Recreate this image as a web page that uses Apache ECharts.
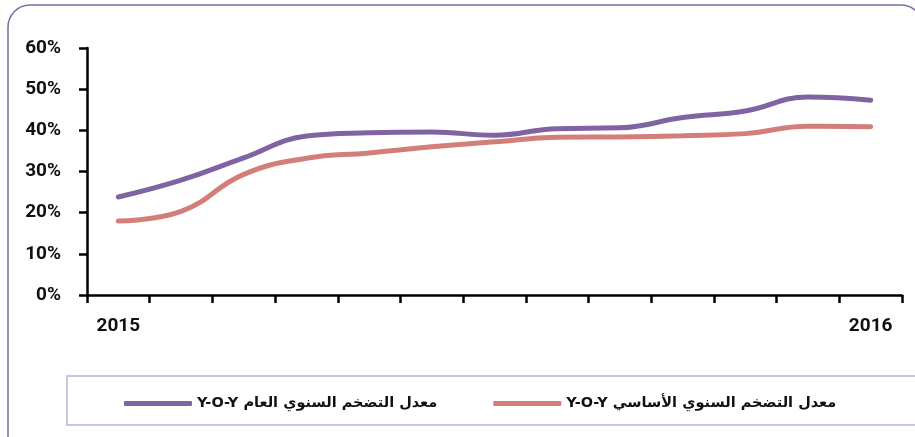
<!DOCTYPE html>
<html><head><meta charset="utf-8">
<script src="https://cdn.jsdelivr.net/npm/echarts@6/dist/echarts.min.js"></script>
<style>html,body{margin:0;padding:0;background:#fff}#c{width:915px;height:437px}</style>
</head><body><div id="c"></div>
<script>
const categories = ['2015','','','','','','','','','','','','2016'];
const generalName = 'معدل التضخم السنوي العام Y-O-Y';
const coreName = 'معدل التضخم السنوي الأساسي Y-O-Y';
const generalValues = [23.8, 27.9, 33.3, 38.6, 39.4, 39.6, 38.8, 40.4, 40.6, 43.1, 44.7, 48.1, 47.3];
const coreValues = [18.0, 20.3, 29.3, 33.2, 34.5, 36.0, 37.2, 38.3, 38.4, 38.7, 39.2, 41.0, 40.9];
const yTicks = [0, 10, 20, 30, 40, 50, 60];

const rle = s => '\u202B' + s + '\u202C';
const chart = echarts.init(document.getElementById('c'), null, {renderer:'canvas'});
chart.setOption({
  animation: false,
  backgroundColor: '#fff',
  grid: {left: 87, right: 13, top: 48, bottom: 142},
  graphic: [
    {type:'rect', shape:{x:8, y:5, width:915, height:470, r:22}, style:{fill:'none', stroke:'#8467A6', lineWidth:1.5}, z:-1},
    {type:'rect', shape:{x:67, y:376, width:900, height:49}, style:{fill:'none', stroke:'#CEC4E0', lineWidth:2}, z:-1}
  ],
  legend: {
    left: 119, top: 391, itemGap: 56, itemWidth: 68, itemHeight: 5, icon: 'roundRect',
    textStyle: {fontFamily: '"DejaVu Sans", Roboto', fontWeight: 'bold', fontSize: 14.5, color: '#111'},
    data: [{name: generalName}, {name: coreName}],
    formatter: n => rle(n)
  },
  xAxis: {
    type: 'category', data: categories, boundaryGap: true,
    axisLine: {lineStyle: {color: '#000', width: 2.5}},
    axisTick: {show: true, length: 8, lineStyle: {color: '#000', width: 2.5}, alignWithLabel: false, interval: 0},
    axisLabel: {interval: 0, margin: 22, color: '#111', fontFamily: 'Roboto', fontWeight: 'bold', fontSize: 19}
  },
  yAxis: {
    type: 'value', min: yTicks[0], max: yTicks[yTicks.length-1], interval: 10,
    splitLine: {show: false},
    axisLine: {show: true, lineStyle: {color: '#000', width: 2.5}},
    axisTick: {show: true, length: 8, lineStyle: {color: '#000', width: 2.5}},
    axisLabel: {formatter: '{value}%', margin: 26, color: '#111', fontFamily: 'Roboto', fontWeight: 'bold', fontSize: 19}
  },
  series: [
    {name: generalName, type: 'line', data: generalValues, smooth: 0.45, symbol: 'none',
     color: '#7F63A3', lineStyle: {width: 5, cap: 'round', color: '#7F63A3'}},
    {name: coreName, type: 'line', data: coreValues, smooth: 0.45, symbol: 'none',
     color: '#D47E7A', lineStyle: {width: 5, cap: 'round', color: '#D47E7A'}}
  ]
});
</script></body></html>
